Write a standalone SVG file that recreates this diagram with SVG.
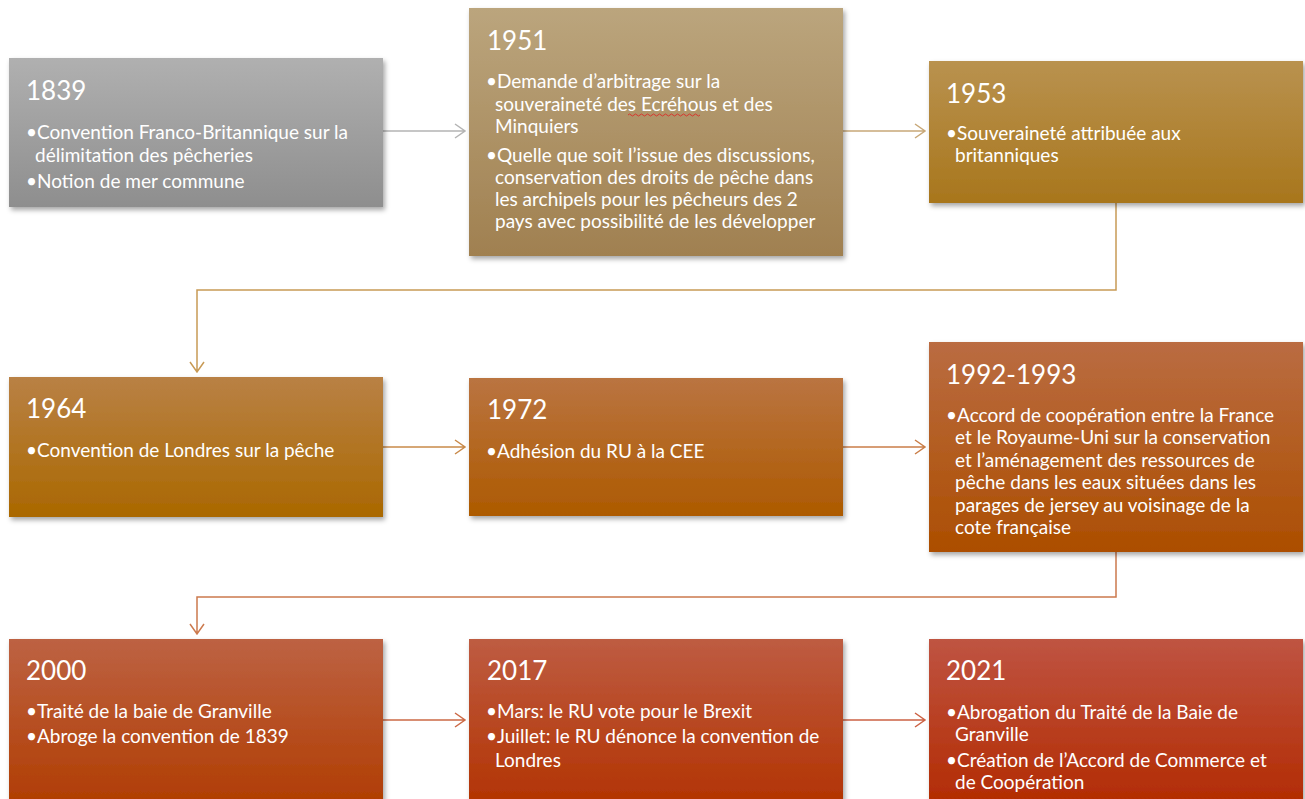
<svg xmlns="http://www.w3.org/2000/svg" width="1305" height="799" viewBox="0 0 1305 799">
<defs>
<filter id="sh" x="-5%" y="-5%" width="112%" height="115%"><feDropShadow dx="2" dy="3" stdDeviation="2.5" flood-color="#000" flood-opacity="0.35"/></filter>
<linearGradient id="g1" x1="0" y1="0" x2="0" y2="1"><stop offset="0" stop-color="#b0b0b0"/><stop offset="1" stop-color="#8e8e8e"/></linearGradient>
<linearGradient id="g2" x1="0" y1="0" x2="0" y2="1"><stop offset="0" stop-color="#bba57d"/><stop offset="1" stop-color="#a08050"/></linearGradient>
<linearGradient id="g3" x1="0" y1="0" x2="0" y2="1"><stop offset="0" stop-color="#b9924f"/><stop offset="1" stop-color="#a8761c"/></linearGradient>
<linearGradient id="g4" x1="0" y1="0" x2="0" y2="1"><stop offset="0" stop-color="#b98145"/><stop offset="1" stop-color="#aa6800"/></linearGradient>
<linearGradient id="g5" x1="0" y1="0" x2="0" y2="1"><stop offset="0" stop-color="#ba7441"/><stop offset="1" stop-color="#ad5a00"/></linearGradient>
<linearGradient id="g6" x1="0" y1="0" x2="0" y2="1"><stop offset="0" stop-color="#ba6c42"/><stop offset="1" stop-color="#ac4e00"/></linearGradient>
<linearGradient id="g7" x1="0" y1="0" x2="0" y2="1"><stop offset="0" stop-color="#bd6243"/><stop offset="1" stop-color="#b03c00"/></linearGradient>
<linearGradient id="g8" x1="0" y1="0" x2="0" y2="1"><stop offset="0" stop-color="#be5c42"/><stop offset="1" stop-color="#b23200"/></linearGradient>
<linearGradient id="g9" x1="0" y1="0" x2="0" y2="1"><stop offset="0" stop-color="#bf5442"/><stop offset="1" stop-color="#b22a00"/></linearGradient>
</defs>
<style>
.box{filter:url(#sh)}
.yr{font-family:Lato,"Liberation Sans",sans-serif;font-size:26px;fill:#fff}
.tx{font-family:Lato,"Liberation Sans",sans-serif;font-size:19px;fill:#fff}
.ln{fill:none;stroke-width:1.5}
</style>
<rect width="1305" height="799" fill="#fff"/>
<g id="connectors">
<path class="ln" stroke="#b4b4b4" d="M383 131H465M455 124L465 131L455 138"/>
<path class="ln" stroke="#c8a878" d="M843 131H925M915 124L925 131L915 138"/>
<path class="ln" stroke="#c89a55" d="M1116 203V290H197V372M190 362L197 372L204 362"/>
<path class="ln" stroke="#c98a4a" d="M383 447H465M455 440L465 447L455 454"/>
<path class="ln" stroke="#ca7e48" d="M843 447H925M915 440L925 447L915 454"/>
<path class="ln" stroke="#cc7a4e" d="M1116 552V597H197V634M190 624L197 634L204 624"/>
<path class="ln" stroke="#cc6a46" d="M383 720H465M455 713L465 720L455 727"/>
<path class="ln" stroke="#cc6244" d="M843 720H925M915 713L925 720L915 727"/>
</g>
<g id="n1839">
<rect class="box" x="9" y="58" width="374" height="149" fill="url(#g1)"/>
<text class="yr" x="26" y="100">1839</text>
<text class="tx"><tspan x="26" y="139">•Convention Franco-Britannique sur la</tspan><tspan x="35" y="162">délimitation des pêcheries</tspan><tspan x="26" y="188">•Notion de mer commune</tspan></text>
</g>
<g id="n1951">
<rect class="box" x="469" y="8" width="374" height="248" fill="url(#g2)"/>
<text class="yr" x="487" y="50">1951</text>
<text class="tx"><tspan x="486" y="88">•Demande d’arbitrage sur la</tspan><tspan x="495" y="111">souveraineté des Ecréhous et des</tspan><tspan x="495" y="133">Minquiers</tspan><tspan x="486" y="162">•Quelle que soit l’issue des discussions,</tspan><tspan x="495" y="184">conservation des droits de pêche dans</tspan><tspan x="495" y="206">les archipels pour les pêcheurs des 2</tspan><tspan x="495" y="228">pays avec possibilité de les développer</tspan></text>
<path d="M628 115q1.5-2 3 0t3 0t3 0t3 0t3 0t3 0t3 0t3 0t3 0t3 0t3 0t3 0t3 0t3 0t3 0t3 0t3 0t3 0t3 0t3 0t3 0t3 0t3 0t3 0" fill="none" stroke="#e02020" stroke-width="0.8"/>
</g>
<g id="n1953">
<rect class="box" x="929" y="61" width="374" height="142" fill="url(#g3)"/>
<text class="yr" x="946" y="103">1953</text>
<text class="tx"><tspan x="946" y="140">•Souveraineté attribuée aux</tspan><tspan x="955" y="162">britanniques</tspan></text>
</g>
<g id="n1964">
<rect class="box" x="9" y="377" width="374" height="140" fill="url(#g4)"/>
<text class="yr" x="26" y="418">1964</text>
<text class="tx"><tspan x="26" y="457">•Convention de Londres sur la pêche</tspan></text>
</g>
<g id="n1972">
<rect class="box" x="469" y="378" width="374" height="138" fill="url(#g5)"/>
<text class="yr" x="487" y="419">1972</text>
<text class="tx"><tspan x="486" y="458">•Adhésion du RU à la CEE</tspan></text>
</g>
<g id="n1992">
<rect class="box" x="929" y="342" width="374" height="210" fill="url(#g6)"/>
<text class="yr" x="946" y="384">1992-1993</text>
<text class="tx"><tspan x="946" y="422">•Accord de coopération entre la France</tspan><tspan x="955" y="444">et le Royaume-Uni sur la conservation</tspan><tspan x="955" y="467">et l’aménagement des ressources de</tspan><tspan x="955" y="489">pêche dans les eaux situées dans les</tspan><tspan x="955" y="512">parages de jersey au voisinage de la</tspan><tspan x="955" y="534">cote française</tspan></text>
</g>
<g id="n2000">
<rect class="box" x="9" y="639" width="374" height="170" fill="url(#g7)"/>
<text class="yr" x="26" y="680">2000</text>
<text class="tx"><tspan x="26" y="718">•Traité de la baie de Granville</tspan><tspan x="26" y="743">•Abroge la convention de 1839</tspan></text>
</g>
<g id="n2017">
<rect class="box" x="469" y="639" width="374" height="170" fill="url(#g8)"/>
<text class="yr" x="487" y="680">2017</text>
<text class="tx"><tspan x="486" y="718">•Mars: le RU vote pour le Brexit</tspan><tspan x="486" y="743">•Juillet: le RU dénonce la convention de</tspan><tspan x="495" y="767">Londres</tspan></text>
</g>
<g id="n2021">
<rect class="box" x="929" y="639" width="374" height="170" fill="url(#g9)"/>
<text class="yr" x="946" y="680">2021</text>
<text class="tx"><tspan x="946" y="719">•Abrogation du Traité de la Baie de</tspan><tspan x="955" y="741">Granville</tspan><tspan x="946" y="767">•Création de l’Accord de Commerce et</tspan><tspan x="955" y="789">de Coopération</tspan></text>
</g>
</svg>
